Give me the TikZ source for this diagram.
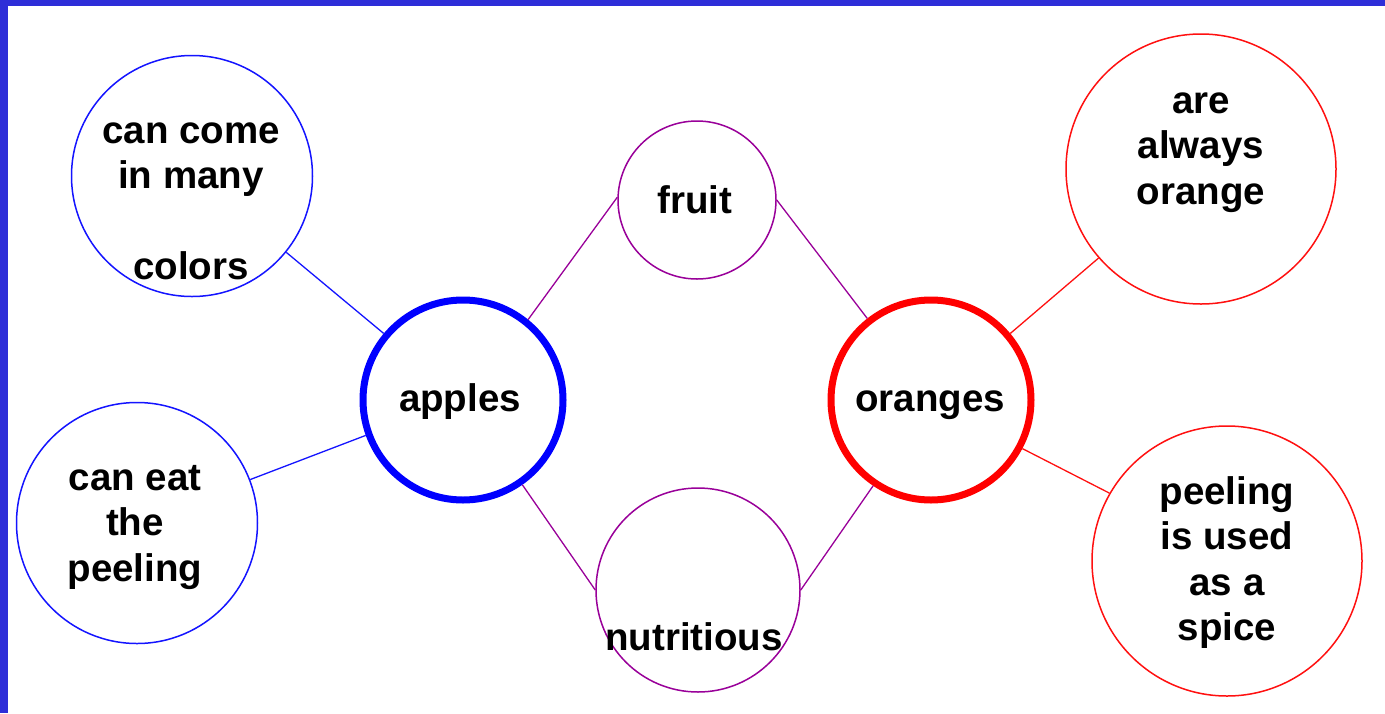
\documentclass[tikz,border=0pt]{standalone}
\usepackage{fontspec}
\setmainfont{Liberation Sans}
\definecolor{framecol}{HTML}{2E2ED8}
\definecolor{bluec}{HTML}{1414FF}
\definecolor{purplec}{HTML}{990099}
\definecolor{redc}{HTML}{FF1010}
\tikzset{
  bubble/.style={circle, draw, inner sep=0pt, line width=1.5pt, minimum size=#1},
  hub/.style={circle, draw, inner sep=0pt, line width=7pt, minimum size=#1},
  txt/.style={inner sep=0pt, anchor=base, font=\fontsize{38.5}{45.5}\selectfont\bfseries},
  link/.style={line width=1.3pt}
}
\newcommand{\mlines}[1]{\begin{tabular}[t]{@{}c@{}}#1\end{tabular}}
\begin{document}
\begin{tikzpicture}[x=1pt,y=-1pt]
\useasboundingbox (0,0) rectangle (1385,713);
\fill[framecol] (0,0) rectangle (1385,713);
\fill[white] (8,6) rectangle (1385,713);

% circles
\node[bubble=241pt, draw=bluec] (colorsC) at (192,176) {};
\node[bubble=241pt, draw=bluec] (peelC) at (137,523) {};
\node[hub=200pt, draw=blue] (apples) at (463,400) {};
\node[bubble=158pt, draw=purplec] (fruit) at (697,200) {};
\node[bubble=204pt, draw=purplec] (nutri) at (698,590) {};
\node[hub=200pt, draw=red] (oranges) at (931,400) {};
\node[bubble=270pt, draw=redc] (alwaysC) at (1201,169) {};
\node[bubble=270pt, draw=redc] (spiceC) at (1227,561) {};

% connectors
\draw[link, bluec] (colorsC.-39) -- (apples.140);
\draw[link, bluec] (peelC.21) -- (apples.200);
\draw[link, purplec] (apples.51) -- (fruit.178);
\draw[link, purplec] (apples.-55) -- (nutri.180);
\draw[link, purplec] (fruit.0) -- (oranges.128);
\draw[link, purplec] (nutri.0) -- (oranges.-124);
\draw[link, redc] (oranges.40) -- (alwaysC.221);
\draw[link, redc] (oranges.-28) -- (spiceC.150);

% texts
\node[txt] (tcolors) at (191,143) {\mlines{can come\\in many\\ \\colors}};
\node[txt] (tpeel) at (135,490) {\mlines{can eat\\the\\peeling}};
\node[txt] (tapples) at (460,411) {apples};
\node[txt] (tfruit) at (695,213) {fruit};
\node[txt] (tnutri) at (694,650) {nutritious};
\node[txt] (toranges) at (930,411) {oranges};
\node[txt] (talways) at (1201,113) {\mlines{are\\always\\orange}};
\node[txt] (tspice) at (1227,504) {\mlines{peeling\\is used\\as a\\spice}};
\end{tikzpicture}
\end{document}
